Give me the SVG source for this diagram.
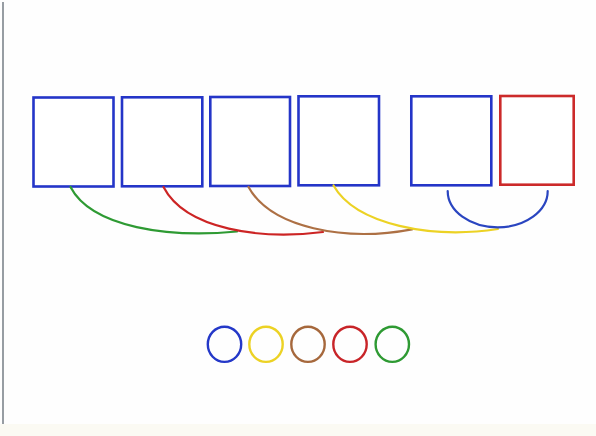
<svg xmlns="http://www.w3.org/2000/svg" width="596" height="436" viewBox="0 0 596 436">
<style>
.box{fill:#fff;stroke-width:2.6}
.b{stroke:#2435c8}
.r{stroke:#cc2a2a}
.c{fill:none;stroke-width:2.2;stroke-linecap:round}
.ring{fill:none;stroke-width:2.4}
</style>
<rect x="0" y="0" width="596" height="436" fill="#fefefe"/>
<rect x="0" y="424" width="596" height="12" fill="#fbfaf3"/>
<line x1="3" y1="2" x2="3" y2="424" stroke="#7d858c" stroke-width="1.6"/>
<g id="box1"><rect class="box b" x="33.5" y="97.5" width="80" height="89"/></g>
<g id="box2"><rect class="box b" x="122" y="97.3" width="80.3" height="89"/></g>
<g id="box3"><rect class="box b" x="210.3" y="97" width="79.7" height="89"/></g>
<g id="box4"><rect class="box b" x="298.5" y="96.3" width="80.5" height="89"/></g>
<g id="box5"><rect class="box b" x="411.3" y="96.3" width="80" height="89"/></g>
<g id="box6"><rect class="box r" x="500.3" y="96" width="73.4" height="88.7"/></g>
<g id="connectors">
<path class="c" stroke="#2e9a33" d="M70.5,187 C92,228 170,238 237,231.5"/>
<path class="c" stroke="#cc2424" d="M163.5,187 C186,230 262,240 323,232"/>
<path class="c" stroke="#ad7044" d="M248.5,187 C271,228 345,242 412,229.3"/>
<path class="c" stroke="#ecd224" d="M333.5,185.5 C356,225 432,239 498,229"/>
<path class="c" stroke="#2a45c0" d="M447.7,191 A50,36.3 0 0 0 547.7,191"/>
</g>
<g id="circle-blue"><ellipse class="ring" stroke="#2438c8" cx="224.5" cy="344.3" rx="16.7" ry="17.6"/></g>
<g id="circle-yellow"><ellipse class="ring" stroke="#ecd224" cx="266" cy="344.3" rx="16.7" ry="17.6"/></g>
<g id="circle-brown"><ellipse class="ring" stroke="#a6683c" cx="308" cy="344.3" rx="16.7" ry="17.6"/></g>
<g id="circle-red"><ellipse class="ring" stroke="#c82428" cx="350" cy="344.3" rx="16.7" ry="17.6"/></g>
<g id="circle-green"><ellipse class="ring" stroke="#2e9a33" cx="392.3" cy="344.3" rx="16.7" ry="17.6"/></g>
</svg>
